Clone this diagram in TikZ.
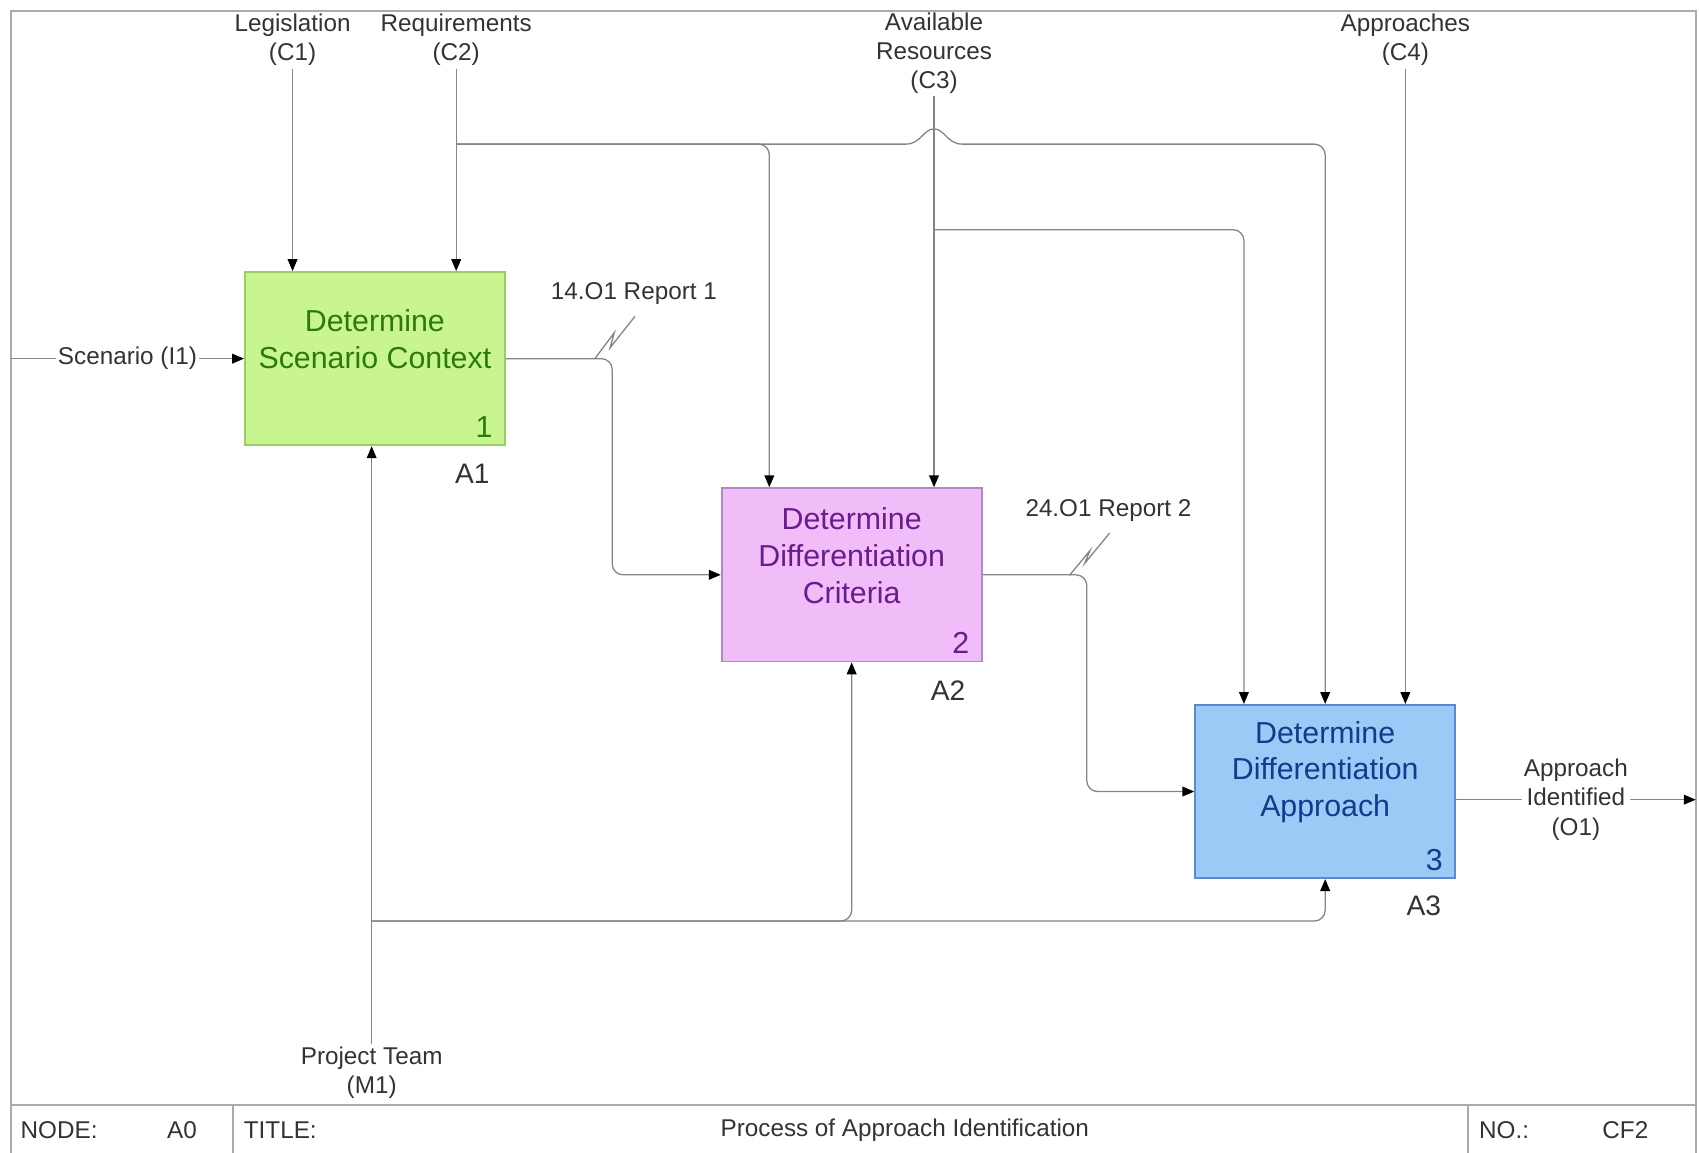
\documentclass[tikz,border=0pt]{standalone}
\usepackage{fontspec}
\setmainfont{Liberation Sans}
\usetikzlibrary{arrows.meta,positioning}
\definecolor{LeafFill}{HTML}{C8F590}
\definecolor{LeafLine}{HTML}{96D062}
\definecolor{LeafText}{HTML}{2D7A0A}
\definecolor{LilacFill}{HTML}{F0BDF9}
\definecolor{LilacLine}{HTML}{B08AC8}
\definecolor{LilacText}{HTML}{6A1C8C}
\definecolor{SkyFill}{HTML}{9DC9F7}
\definecolor{SkyLine}{HTML}{5A8AD0}
\definecolor{SkyText}{HTML}{0F3D8C}
\definecolor{Wire}{HTML}{858585}
\definecolor{Frame}{HTML}{ABABAB}
\definecolor{Ink}{HTML}{333333}

\begin{document}
\begin{tikzpicture}[x=0.5pt,y=-0.5pt,text=Ink,
    font=\fontsize{11.2}{13.5}\selectfont,
    actbox/.style={draw,line width=0.8pt,minimum width=120pt,minimum height=80pt,inner sep=0pt},
    acttxt/.style={align=center,font=\fontsize{14}{17}\selectfont},
    actnum/.style={font=\fontsize{14}{17}\selectfont},
    actid/.style={font=\fontsize{13}{15}\selectfont},
    lbl/.style={align=center,inner sep=1pt},
    wire/.style={draw=Wire,line width=0.6pt,rounded corners=5pt},
    flow/.style={wire,-{Triangle[length=5.5pt,width=4.5pt,color=black]}},
    tick/.style={draw=Wire,line width=0.6pt}]
    \useasboundingbox (0,0) rectangle (1568,1064);
    % frame and title block
    \draw[Frame,line width=1pt] (10,10) rectangle (1565,1075);
    \draw[Frame,line width=1pt] (10,1020) -- (1565,1020);
    \draw[Frame,line width=1pt] (215,1020) -- (215,1075);
    \draw[Frame,line width=1pt] (1355,1020) -- (1355,1075);
    \node[anchor=west] (nodekey) at (12,1043) {NODE:};
    \node (nodeval) at (168,1043) {A0};
    \node[anchor=west] (titlekey) at (218,1043) {TITLE:};
    \node (titleval) at (835,1043) {Process of Approach Identification};
    \node[anchor=west] (nokey) at (1358,1043) {NO.:};
    \node (noval) at (1500,1043) {CF2};
    % activities
    \node[actbox,fill=LeafFill,draw=LeafLine] (a1) at (346,331) {};
    \node[acttxt,text=LeafText] (a1txt) at ([yshift=9pt]a1.center) {Determine\\Scenario Context};
    \node[actnum,text=LeafText] (a1num) at ([shift={(-10pt,9pt)}]a1.south east) {1};
    \node[actid] (a1id) at (436,437) {A1};
    \node[actbox,fill=LilacFill,draw=LilacLine] (a2) at (786,530.5) {};
    \node[acttxt,text=LilacText] (a2txt) at ([yshift=9pt]a2.center) {Determine\\Differentiation\\Criteria};
    \node[actnum,text=LilacText] (a2num) at ([shift={(-10pt,9pt)}]a2.south east) {2};
    \node[actid] (a2id) at (875,637) {A2};
    \node[actbox,fill=SkyFill,draw=SkyLine] (a3) at (1223,730.5) {};
    \node[acttxt,text=SkyText] (a3txt) at ([yshift=9pt]a3.center) {Determine\\Differentiation\\Approach};
    \node[actnum,text=SkyText] (a3num) at ([shift={(-10pt,9pt)}]a3.south east) {3};
    \node[actid] (a3id) at (1314,836) {A3};
    % controls
    \node[lbl] (c1) at (270,37) {Legislation\\(C1)};
    \node[lbl] (c2) at (421,37) {Requirements\\(C2)};
    \node[lbl] (c3) at (862,49) {Available\\Resources\\(C3)};
    \node[lbl] (c4) at (1297,37) {Approaches\\(C4)};
    \coordinate (c2tap) at (421,133);
    \coordinate (c3tap) at (862,212);
    \draw[flow] (c1) -- (c1 |- a1.north);
    \draw[flow] (c2) -- (c2 |- a1.north);
    \draw[flow] (c2tap) -| ([xshift=-38pt]a2.north);
    \draw[flow,sharp corners] (c2tap) -- (836,133) .. controls (850,133) and (852,119) .. (862,119)
        .. controls (872,119) and (874,133) .. (888,133) [rounded corners=5pt] -| (a3.north);
    \draw[flow] (c3) -- (c3 |- a2.north);
    \draw[flow] (c3tap) -| ([xshift=-37.5pt]a3.north);
    \draw[flow] (c4) -- (c4 |- a3.north);
    % input
    \coordinate (i1) at (10,331);
    \draw[flow] (i1) -- node[lbl,fill=white] (i1txt) {Scenario (I1)} (a1.west);
    % outputs
    \coordinate (j12) at (565,0);
    \coordinate (j23) at (1003,0);
    \draw[flow] (a1.east) -- (a1.east -| j12) -- (j12 |- a2.west) -- (a2.west);
    \draw[flow] (a2.east) -- (a2.east -| j23) -- (j23 |- a3.west) -- (a3.west);
    \node (r1) at (585,271) {14.O1 Report 1};
    \draw[tick] (549,331) -- ++(18,-24) -- ++(-4,14) -- ++(23,-29);
    \node (r2) at (1023,471) {24.O1 Report 2};
    \draw[tick] (987,531) -- ++(19,-23) -- ++(-5,12) -- ++(23,-28);
    \coordinate (o1) at (1565,738);
    \draw[flow] (a3.east |- o1) -- node[lbl,fill=white] (o1txt) {Approach\\Identified\\(O1)} (o1);
    % mechanism
    \node[lbl] (m1) at (343,990) {Project Team\\(M1)};
    \coordinate (m1tap) at (343,850);
    \draw[flow] (m1) -- (m1 |- a1.south);
    \draw[flow] (m1tap) -| (a2.south);
    \draw[flow] (m1tap) -| (a3.south);
\end{tikzpicture}
\end{document}
